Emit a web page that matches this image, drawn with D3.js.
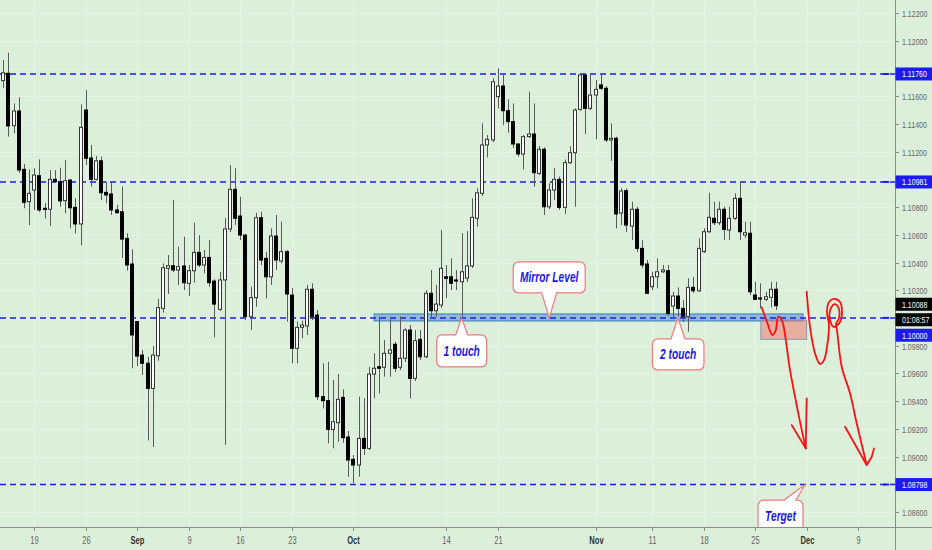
<!DOCTYPE html>
<html><head><meta charset="utf-8">
<script src="https://cdn.jsdelivr.net/npm/d3@7"></script>
<style>html,body{margin:0;padding:0;background:#dcefda;}svg{display:block;}</style>
</head><body>
<svg id="c" width="932" height="550"></svg>
<script>
// ---------- DATA (12h candles, EUR/USD) ----------
const openP=[
1.11712,1.11765,1.11387,1.11493,1.11072,1.10839,1.10923,1.11026,1.10791,1.10784,
1.11000,1.10983,1.10846,1.10995,1.10798,1.10678,1.11500,1.11154,1.11000,1.11134,
1.10906,1.10894,1.10779,1.10766,1.10574,1.10389,1.09973,1.09732,1.09673,1.09492,
1.09727,1.10069,1.10358,1.10377,1.10346,1.10375,1.10250,1.10341,1.10473,1.10382,
1.10437,1.10266,1.10062,1.10274,1.10642,1.10928,1.10735,1.10598,1.10009,1.10146,
1.10723,1.10430,1.10297,1.10591,1.10411,1.10478,1.10165,1.09781,1.09932,1.09942,
1.10207,1.10021,1.09432,1.09403,1.09196,1.09244,1.09427,1.09141,1.08980,1.08939,
1.09131,1.09059,1.09595,1.09648,1.09644,1.09745,1.09810,1.09644,1.09709,1.09913,
1.09564,1.09846,1.09720,1.10178,1.10052,1.10093,1.10297,1.10297,1.10274,1.10261,
1.10288,1.10375,1.10719,1.10899,1.11248,1.11284,1.11596,1.11673,1.11495,1.11416,
1.11255,1.11183,1.11308,1.11327,1.11043,1.11217,1.10802,1.10923,1.11000,1.10798,
1.11120,1.11192,1.11505,1.11753,1.11512,1.11608,1.11681,1.11657,1.11284,1.11296,
1.10757,1.10918,1.10663,1.10784,1.10502,1.10389,1.10225,1.10297,1.10333,1.10341,
1.10086,1.10158,1.10069,1.10009,1.10221,1.10196,1.10478,1.10622,1.10719,1.10687,
1.10784,1.10634,1.10719,1.10863,1.10598,1.10611,1.10165,1.10144,1.10134,1.10149,
1.10207];
const highP=[
1.11861,1.11914,1.11548,1.11592,1.11111,1.11072,1.11080,1.11144,1.10827,1.11067,
1.11067,1.11084,1.11139,1.11000,1.10863,1.11541,1.11644,1.11248,1.11168,1.11163,
1.10983,1.10983,1.10815,1.10947,1.10611,1.10495,1.09978,1.09769,1.09720,1.09797,
1.10137,1.10394,1.10454,1.10851,1.10514,1.10586,1.10382,1.10687,1.10598,1.10490,
1.10562,1.10279,1.10333,1.10721,1.11103,1.11080,1.10875,1.10605,1.10225,1.10759,
1.10766,1.10478,1.10647,1.10743,1.10694,1.10490,1.10214,1.09973,1.09980,1.10238,
1.10250,1.10057,1.09673,1.09684,1.09552,1.09595,1.09485,1.09184,1.09011,1.09432,
1.09420,1.09648,1.09745,1.10009,1.09841,1.09997,1.09828,1.10009,1.09925,1.09949,
1.09913,1.09913,1.10201,1.10346,1.10238,1.10634,1.10382,1.10430,1.10346,1.10611,
1.10627,1.10863,1.10935,1.11404,1.11320,1.11729,1.11801,1.11753,1.11577,1.11548,
1.11260,1.11320,1.11632,1.11548,1.11240,1.11231,1.10971,1.11080,1.11019,1.11144,
1.11240,1.11512,1.11765,1.11760,1.11753,1.11717,1.11760,1.11673,1.11404,1.11308,
1.10935,1.10935,1.10839,1.10802,1.10562,1.10418,1.10333,1.10430,1.10382,1.10382,
1.10189,1.10221,1.10129,1.10286,1.10297,1.10574,1.10647,1.10903,1.10839,1.10839,
1.10802,1.10802,1.10899,1.10983,1.10694,1.10694,1.10261,1.10250,1.10189,1.10261,
1.10261];
const lowP=[
1.11659,1.11308,1.11332,1.11046,1.10791,1.10670,1.10779,1.10766,1.10719,1.10663,
1.10973,1.10802,1.10755,1.10647,1.10611,1.10526,1.11103,1.10947,1.10990,1.10851,
1.10827,1.10743,1.10755,1.10432,1.10341,1.09637,1.09653,1.09588,1.09116,1.09069,
1.09691,1.10038,1.10173,1.10331,1.10238,1.10201,1.10158,1.10254,1.10367,1.10322,
1.10225,1.09860,1.10050,1.09085,1.10620,1.10670,1.10562,1.09985,1.09913,1.10081,
1.10382,1.10142,1.10238,1.10346,1.10394,1.09973,1.09673,1.09673,1.09853,1.09877,
1.09985,1.09408,1.09348,1.09095,1.09059,1.09107,1.09100,1.08854,1.08807,1.08854,
1.09011,1.09047,1.09420,1.09456,1.09576,1.09576,1.09610,1.09624,1.09682,1.09420,
1.09545,1.09696,1.09709,1.09999,1.10009,1.10072,1.10142,1.10201,1.10201,1.10009,
1.10259,1.10360,1.10658,1.10880,1.11159,1.11269,1.11512,1.11392,1.11336,1.11226,
1.11163,1.11072,1.11298,1.10947,1.11031,1.10743,1.10786,1.10851,1.10779,1.10750,
1.11111,1.10802,1.11493,1.11327,1.11500,1.11289,1.11644,1.11269,1.11134,1.10647,
1.10670,1.10620,1.10562,1.10476,1.10360,1.10173,1.10201,1.10214,1.10324,1.10014,
1.09997,1.10014,1.09971,1.09901,1.10180,1.10187,1.10468,1.10613,1.10670,1.10670,
1.10562,1.10562,1.10706,1.10562,1.10577,1.10165,1.10129,1.10069,1.10122,1.10077,
1.10057];
const closeP=[
1.11769,1.11385,1.11493,1.11067,1.10834,1.10899,1.11031,1.10779,1.10782,1.11000,
1.10983,1.10844,1.10990,1.10795,1.10678,1.11375,1.11152,1.11000,1.11134,1.10903,
1.10887,1.10779,1.10759,1.10569,1.10382,1.09877,1.09725,1.09673,1.09492,1.09732,
1.10074,1.10362,1.10377,1.10346,1.10370,1.10254,1.10341,1.10473,1.10382,1.10437,
1.10254,1.10100,1.10274,1.10642,1.10928,1.10719,1.10598,1.10009,1.10146,1.10723,
1.10418,1.10297,1.10591,1.10418,1.10478,1.10173,1.09781,1.09932,1.09949,1.10207,
1.10009,1.09432,1.09403,1.09196,1.09251,1.09413,1.09136,1.08975,1.08939,1.09131,
1.09059,1.09595,1.09637,1.09637,1.09745,1.09769,1.09637,1.09709,1.09913,1.09564,
1.09836,1.09720,1.10178,1.10052,1.10100,1.10358,1.10286,1.10250,1.10266,1.10333,
1.10375,1.10726,1.10903,1.11248,1.11289,1.11704,1.11673,1.11495,1.11416,1.11255,
1.11183,1.11308,1.11327,1.11048,1.11217,1.10802,1.10923,1.11000,1.10798,1.11120,
1.11192,1.11500,1.11753,1.11512,1.11608,1.11649,1.11657,1.11284,1.11296,1.10750,
1.10916,1.10670,1.10784,1.10502,1.10382,1.10178,1.10297,1.10333,1.10346,1.10033,
1.10158,1.10069,1.10009,1.10221,1.10196,1.10502,1.10622,1.10726,1.10687,1.10784,
1.10639,1.10719,1.10863,1.10622,1.10615,1.10189,1.10134,1.10139,1.10153,1.10207,
1.10088];

const xTickIdx=[6,16,26,36,46,56,68,86,96,115,126,136,146,156,166];
const xTickLbl=["19","26","Sep","9","16","23","Oct","14","21","Nov","11","18","25","Dec","9"];
const xTickMonth=[false,false,true,false,false,false,true,false,false,true,false,false,false,true,false];
const yTickVals=[1.086,1.088,1.090,1.092,1.094,1.096,1.098,1.100,1.102,1.104,1.106,1.108,1.110,1.112,1.114,1.116,1.118,1.120,1.122];

const levelVals=[1.11760,1.10981,1.10000,1.08798];
const lastPrice=1.10088;
const countdownTxt="01:08:57";

const mirrorZoneIdx=[72,155.3];
const mirrorZonePrice=[1.09978,1.10029];
const targetZoneIdx=[147.1,156];
const targetZonePrice=[1.09846,1.09985];

const calloutText=["Mirror Level","1 touch","2 touch","Terget"];
const calloutIdx=[106,89,131,155.67];
const calloutPrice=[1.10000,1.10000,1.10000,1.08798];

const redWave=[[147.26,1.10077],[148.29,1.09971],[149.32,1.09877],[149.94,1.09906],[150.49,1.10009],[151.15,1.09985],[152.76,1.09624],[154.37,1.09312],[155.81,1.09059]];
const redWaveHead=[[153.09,1.09227],[155.81,1.09059],[156.0,1.09420]];
const redLoop=[[156.0,1.10189],[156.64,1.09937],[157.61,1.09745],[158.58,1.09668],[159.36,1.09696],[160.0,1.09805],[160.33,1.09949],[159.94,1.10043],[160.33,1.10115],[161.3,1.10137],[162.47,1.10115],[162.85,1.10043],[162.47,1.09971],[161.3,1.09935],[160.52,1.09985],[160.72,1.10072],[161.49,1.10100],[162.27,1.10064],[162.27,1.09999],[161.69,1.09956],[161.88,1.09913],[162.8,1.09648],[164.41,1.09456],[165.71,1.09240],[167.65,1.08939]];
const redLoopHead=[[163.44,1.09215],[167.65,1.08939],[168.62,1.08997],[169.07,1.09059]];

// ---------- LAYOUT ----------
const W=932,H=550,PR=895,PB=527;
const BG="#dcefda",GRID="#e7f4e5",BLUE="#1c1cf0",AXIS="#8c8c8c";
const x=d3.scaleLinear().domain([0,150]).range([3.3,775.8]);
const y=d3.scaleLinear().domain([1.086,1.122]).range([512,13]);
const SX=0.74;
const svg=d3.select("#c");
svg.append("rect").attr("width",W).attr("height",H).attr("fill",BG);
svg.append("defs").append("clipPath").attr("id","plot").append("rect").attr("x",0).attr("y",0).attr("width",PR).attr("height",PB);
const plot=svg.append("g").attr("clip-path","url(#plot)");

function txt(g,tx,ty,s,o){
  o=o||{};
  return g.append("text").attr("transform",`translate(${tx},${ty}) scale(${o.sx||SX},1)`)
    .attr("text-anchor",o.anchor||"start")
    .attr("font-family","'Liberation Sans',Arial,sans-serif")
    .attr("font-size",o.size||10).attr("font-weight",o.weight||"normal")
    .attr("font-style",o.style||"normal").attr("fill",o.fill||"#555").text(s);
}

// grid
yTickVals.forEach(v=>{plot.append("line").attr("x1",0).attr("x2",PR).attr("y1",Math.round(y(v))+0.5).attr("y2",Math.round(y(v))+0.5).attr("stroke",GRID);});
xTickIdx.forEach(v=>{const px=Math.round(x(v))+0.5;plot.append("line").attr("x1",px).attr("x2",px).attr("y1",0).attr("y2",PB).attr("stroke",GRID);});

// mirror zone
plot.append("rect").attr("x",x(mirrorZoneIdx[0])).attr("width",x(mirrorZoneIdx[1])-x(mirrorZoneIdx[0]))
  .attr("y",y(mirrorZonePrice[1])).attr("height",y(mirrorZonePrice[0])-y(mirrorZonePrice[1]))
  .attr("fill","rgba(40,120,205,0.45)").attr("stroke","rgba(40,110,190,0.85)").attr("stroke-width",1);

// level lines
levelVals.forEach(v=>{
  plot.append("line").attr("x1",0).attr("x2",PR).attr("y1",y(v)).attr("y2",y(v))
   .attr("stroke",BLUE).attr("stroke-width",1.6).attr("stroke-dasharray","6,4");
});

// candles
const candles=openP.map((o,i)=>({i,o,h:highP[i],l:lowP[i],c:closeP[i]}));
const cg=plot.append("g");
candles.forEach(d=>{
  const px=Math.round(x(d.i));
  cg.append("line").attr("x1",px+0.5).attr("x2",px+0.5).attr("y1",y(d.h)).attr("y2",y(d.l)).attr("stroke","#5a5a5a").attr("stroke-width",1);
  const up=d.c>=d.o;
  const top=y(Math.max(d.o,d.c)),bot=y(Math.min(d.o,d.c));
  cg.append("rect").attr("x",px-1.5).attr("width",3).attr("y",top).attr("height",Math.max(1,bot-top))
    .attr("fill",up?"#ffffff":"#000000").attr("stroke",up?"#333":"#000").attr("stroke-width",1);
});

// target zone
plot.append("rect").attr("x",x(targetZoneIdx[0])).attr("width",x(targetZoneIdx[1])-x(targetZoneIdx[0]))
  .attr("y",y(targetZonePrice[1])).attr("height",y(targetZonePrice[0])-y(targetZonePrice[1]))
  .attr("fill","rgba(242,120,110,0.55)").attr("stroke","#7f98b8").attr("stroke-width",1);

// red drawings
const ln=d3.line().x(d=>x(d[0])).y(d=>y(d[1]));
const lnC=d3.line().x(d=>x(d[0])).y(d=>y(d[1])).curve(d3.curveCatmullRom.alpha(0.5));
[[redWave,lnC],[redWaveHead,ln],[redLoop,lnC],[redLoopHead,ln]].forEach(([pts,gen])=>{
  plot.append("path").attr("d",gen(pts)).attr("fill","none").attr("stroke","#ff1010").attr("stroke-width",1.8)
    .attr("stroke-linecap","round").attr("stroke-linejoin","round");
});

// callouts
const layout=[
 {dx0:-36,dx1:36,dy0:-56,dy1:-25,side:"bottom",b0:-7.5,b1:7.5},
 {dx0:-25,dx1:25,dy0:17,dy1:49,side:"top",b0:-6,b1:6},
 {dx0:-25.5,dx1:26,dy0:21,dy1:52,side:"top",b0:-7,b1:7},
 {dx0:-47,dx1:-2,dy0:15.5,dy1:62,side:"top",b0:-21,b1:-9}
];
function calloutPath(x0,y0,x1,y1,r,side,bx0,bx1,tx,ty){
  if(side==="top"){
    return `M${x0+r},${y0}L${bx0},${y0}L${tx},${ty}L${bx1},${y0}L${x1-r},${y0}Q${x1},${y0} ${x1},${y0+r}L${x1},${y1-r}Q${x1},${y1} ${x1-r},${y1}L${x0+r},${y1}Q${x0},${y1} ${x0},${y1-r}L${x0},${y0+r}Q${x0},${y0} ${x0+r},${y0}Z`;
  }
  return `M${x0+r},${y0}L${x1-r},${y0}Q${x1},${y0} ${x1},${y0+r}L${x1},${y1-r}Q${x1},${y1} ${x1-r},${y1}L${bx1},${y1}L${tx},${ty}L${bx0},${y1}L${x0+r},${y1}Q${x0},${y1} ${x0},${y1-r}L${x0},${y0+r}Q${x0},${y0} ${x0+r},${y0}Z`;
}
calloutText.forEach((t,k)=>{
  const L=layout[k],tx=x(calloutIdx[k]),ty=y(calloutPrice[k]);
  const x0=tx+L.dx0,x1=tx+L.dx1,y0=ty+L.dy0,y1=ty+L.dy1;
  plot.append("path").attr("d",calloutPath(x0,y0,x1,y1,6,L.side,tx+L.b0,tx+L.b1,tx,ty))
   .attr("fill","#ffffff").attr("stroke","#f07a7a").attr("stroke-width",1.2);
  const cy=(k===3)?y0+16:(y0+y1)/2;
  txt(plot,(x0+x1)/2,cy+5,t,{anchor:"middle",size:14,weight:"bold",style:"italic",fill:"#1818e0",sx:0.73});
});

// axes
const ax=svg.append("g");
ax.append("line").attr("x1",PR+0.5).attr("x2",PR+0.5).attr("y1",0).attr("y2",H).attr("stroke",AXIS);
ax.append("line").attr("x1",0).attr("x2",W).attr("y1",PB+0.5).attr("y2",PB+0.5).attr("stroke",AXIS);

// label boxes on the price scale (centres)
const c0=y(lastPrice)-1.5;
const boxCentres=levelVals.filter(v=>v!==1.10000).map(v=>y(v)).concat([c0,c0+15.5,c0+31]);

yTickVals.forEach(v=>{
  const py=Math.round(y(v))+0.5;
  ax.append("line").attr("x1",PR).attr("x2",PR+4).attr("y1",py).attr("y2",py).attr("stroke",AXIS);
  const hidden=boxCentres.some(c=>Math.abs(c-py)<9);
  if(!hidden) txt(ax,902,py+3.5,v.toFixed(5),{size:9.5,fill:"#666"});
});
xTickIdx.forEach((v,k)=>{
  const px=Math.round(x(v))+0.5;
  ax.append("line").attr("x1",px).attr("x2",px).attr("y1",PB).attr("y2",PB+4).attr("stroke",AXIS);
  txt(ax,px,544,xTickLbl[k],{anchor:"middle",size:10.5,weight:xTickMonth[k]?"bold":"normal",fill:xTickMonth[k]?"#333":"#666",sx:0.72});
});

// level labels & markers
function boxLabel(cy,s,fill){
  ax.append("rect").attr("x",PR+0.5).attr("y",cy-6.5).attr("width",W-PR).attr("height",13).attr("fill",fill);
  txt(ax,902,cy+3.5,s,{size:9.5,fill:"#ffffff"});
}
levelVals.forEach(v=>{
  ax.append("line").attr("x1",883).attr("x2",889).attr("y1",y(v)).attr("y2",y(v)).attr("stroke",BLUE).attr("stroke-width",2);
  if(v!==1.10000) boxLabel(y(v),v.toFixed(5),BLUE);
});
boxLabel(c0,lastPrice.toFixed(5),"#000000");
boxLabel(c0+15.5,countdownTxt,"#000000");
boxLabel(c0+31,(1.10000).toFixed(5),BLUE);
</script>
</body></html>
